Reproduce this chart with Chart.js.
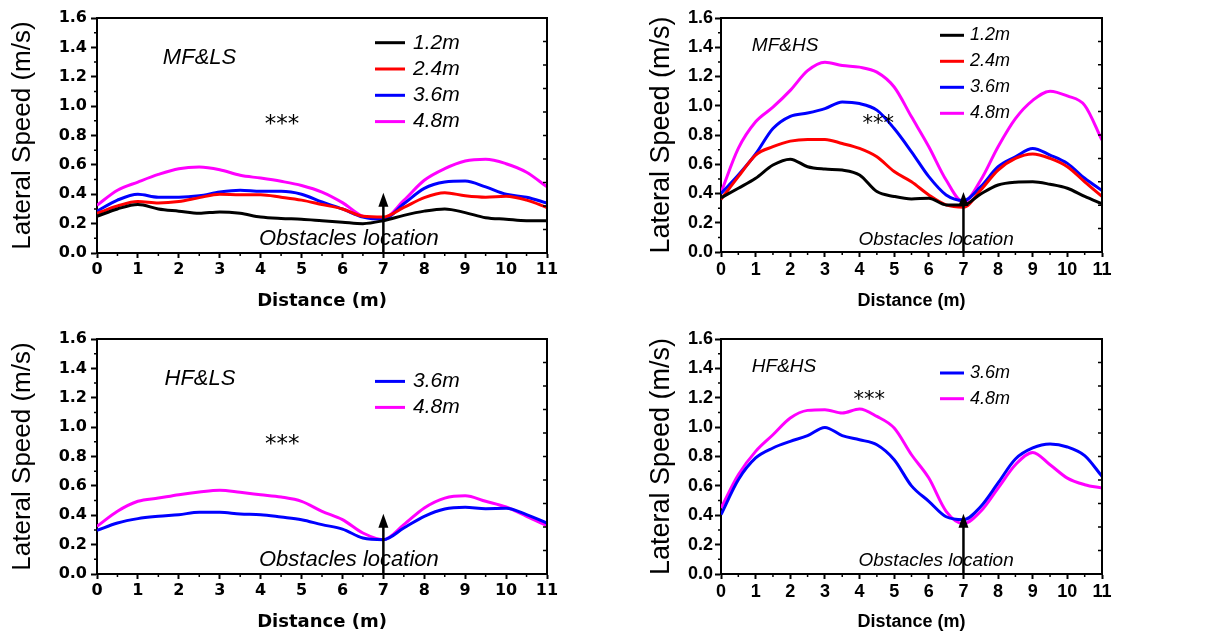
<!DOCTYPE html>
<html>
<head>
<meta charset="utf-8">
<script src="https://cdn.jsdelivr.net/npm/chart.js@4.4.0/dist/chart.umd.min.js"></script>
<style>
    body { margin: 0; background: #fff; }
    canvas { position: absolute; }
</style>
</head>
<body>
<canvas id="mfls" style="left:0px;top:0px" width="600" height="320"></canvas>
<canvas id="mfhs" style="left:624px;top:0px" width="594" height="320"></canvas>
<canvas id="hfls" style="left:0px;top:320px" width="600" height="321"></canvas>
<canvas id="hfhs" style="left:624px;top:320px" width="594" height="321"></canvas>
<script>
const distance = [0, 0.5, 1, 1.5, 2, 2.5, 3, 3.5, 4, 4.5, 5, 5.5, 6, 6.5, 7, 7.5, 8, 8.5, 9, 9.5, 10, 10.5, 11];
const distanceTicks = [0, 1, 2, 3, 4, 5, 6, 7, 8, 9, 10, 11];
const speedTicks = [0, 0.2, 0.4, 0.6, 0.8, 1.0, 1.2, 1.4, 1.6];
const heightLabels = ["1.2m", "2.4m", "3.6m", "4.8m"];
const lineColors = ["#000000", "#ff0000", "#0000ff", "#ff00ff"];

// MF&LS
const mfls12 = [0.25, 0.30, 0.33, 0.30, 0.285, 0.27, 0.28, 0.27, 0.245, 0.235, 0.23, 0.22, 0.21, 0.20, 0.22, 0.256, 0.285, 0.30, 0.275, 0.24, 0.23, 0.22, 0.22];
const mfls24 = [0.27, 0.32, 0.35, 0.34, 0.35, 0.377, 0.40, 0.397, 0.397, 0.38, 0.36, 0.33, 0.30, 0.25, 0.245, 0.31, 0.377, 0.41, 0.39, 0.38, 0.386, 0.36, 0.31];
const mfls36 = [0.285, 0.36, 0.40, 0.38, 0.38, 0.39, 0.415, 0.427, 0.42, 0.42, 0.40, 0.347, 0.30, 0.245, 0.23, 0.335, 0.44, 0.483, 0.49, 0.45, 0.40, 0.38, 0.34];
const mfls48 = [0.325, 0.427, 0.483, 0.535, 0.574, 0.585, 0.567, 0.529, 0.51, 0.488, 0.46, 0.415, 0.343, 0.25, 0.234, 0.358, 0.495, 0.574, 0.626, 0.638, 0.608, 0.55, 0.45];

// MF&HS
const mfhs12 = [0.37, 0.436, 0.504, 0.595, 0.635, 0.583, 0.567, 0.56, 0.527, 0.413, 0.38, 0.363, 0.368, 0.322, 0.322, 0.397, 0.458, 0.477, 0.48, 0.463, 0.436, 0.38, 0.33];
const mfhs24 = [0.36, 0.515, 0.663, 0.72, 0.758, 0.77, 0.77, 0.742, 0.708, 0.651, 0.55, 0.48, 0.39, 0.322, 0.306, 0.424, 0.56, 0.64, 0.67, 0.64, 0.583, 0.48, 0.38];
const mfhs36 = [0.40, 0.526, 0.67, 0.844, 0.928, 0.95, 0.98, 1.026, 1.015, 0.97, 0.844, 0.685, 0.515, 0.39, 0.352, 0.447, 0.583, 0.651, 0.708, 0.663, 0.606, 0.504, 0.42];
const mfhs48 = [0.406, 0.708, 0.89, 0.99, 1.105, 1.24, 1.298, 1.275, 1.264, 1.23, 1.128, 0.924, 0.72, 0.492, 0.34, 0.492, 0.72, 0.912, 1.037, 1.10, 1.067, 1.003, 0.765];

// HF&LS
const hfls36 = [0.297, 0.347, 0.377, 0.393, 0.404, 0.42, 0.42, 0.408, 0.404, 0.388, 0.37, 0.336, 0.306, 0.245, 0.234, 0.313, 0.393, 0.443, 0.454, 0.445, 0.447, 0.404, 0.347];
const hfls48 = [0.324, 0.427, 0.495, 0.517, 0.54, 0.558, 0.57, 0.556, 0.54, 0.524, 0.495, 0.427, 0.37, 0.279, 0.234, 0.336, 0.45, 0.517, 0.533, 0.495, 0.456, 0.393, 0.329];

// HF&HS
const hfhs36 = [0.404, 0.642, 0.79, 0.858, 0.903, 0.942, 0.998, 0.942, 0.914, 0.88, 0.778, 0.60, 0.495, 0.39, 0.37, 0.46, 0.62, 0.783, 0.858, 0.885, 0.865, 0.806, 0.665];
const hfhs48 = [0.449, 0.676, 0.835, 0.948, 1.062, 1.114, 1.119, 1.096, 1.123, 1.073, 0.994, 0.812, 0.653, 0.427, 0.343, 0.427, 0.585, 0.744, 0.828, 0.744, 0.653, 0.608, 0.585];

const obstacleAt = 7;
const arrowTip = 0.41;

// left column is drawn a bit wider than the right one
const wideLook = {
    pad: { left: 0, top: 18, right: 53, bottom: 0 },
    xAxisHeight: 67,
    tickFont: { family: "DejaVu Sans", size: 16, weight: "bold" },
    xTitleFont: { family: "DejaVu Sans", size: 18, weight: "bold", lineHeight: 1 },
    yTitleFont: { family: "Liberation Sans", size: 26, lineHeight: 1 },
    yTitleGap: 10,
    yTickPad: 4,
    nameSize: 22, noteSize: 22, starSize: 23, legendSize: 21,
    legend: { x0: 278, x1: 308, tx: 316, top: 24.7, gap: 26.3 }
};
const narrowLook = {
    pad: { left: 0, top: 18, right: 116, bottom: 0 },
    xAxisHeight: 68,
    tickFont: { family: "Liberation Sans", size: 18, weight: "bold" },
    xTitleFont: { family: "Liberation Sans", size: 18, weight: "bold", lineHeight: 1 },
    yTitleFont: { family: "Liberation Sans", size: 27, lineHeight: 1 },
    yTitleGap: 24,
    yTickPad: 2,
    nameSize: 19, noteSize: 19, starSize: 21, legendSize: 18,
    legend: { x0: 219, x1: 243, tx: 249, top: 17.3, gap: 26 }
};

function extras(title, look, spots) {
    return {
        id: "extras",
        afterDatasetsDraw(chart) {
            const { ctx, chartArea: a, scales: { x, y } } = chart;
            ctx.save();
            ctx.strokeStyle = "#000";
            ctx.fillStyle = "#000";

            // top and right sides of the box
            ctx.lineWidth = 2;
            ctx.beginPath();
            ctx.moveTo(a.left, a.top);
            ctx.lineTo(a.right, a.top);
            ctx.lineTo(a.right, a.bottom);
            ctx.stroke();

            // minor ticks + inner ticks on the right side
            ctx.lineWidth = 1.5;
            ctx.beginPath();
            for (let i = 0; i < 11; i++) {
                const px = x.getPixelForValue(i + 0.5);
                ctx.moveTo(px, a.bottom);
                ctx.lineTo(px, a.bottom + 3);
            }
            for (let i = 0; i < 8; i++) {
                const py = y.getPixelForValue(0.1 + i * 0.2);
                ctx.moveTo(a.left, py);
                ctx.lineTo(a.left - 3, py);
            }
            for (let i = 1; i < 10; i++) {
                const py = a.top + (a.bottom - a.top) * i / 10;
                ctx.moveTo(a.right, py);
                ctx.lineTo(a.right - 4, py);
            }
            ctx.stroke();

            // texts inside the plot
            ctx.textBaseline = "alphabetic";
            ctx.textAlign = "left";
            ctx.font = "italic " + look.nameSize + "px 'Liberation Sans'";
            ctx.fillText(title, x.getPixelForValue(spots.name[0]), y.getPixelForValue(spots.name[1]));
            ctx.font = "italic " + look.noteSize + "px 'Liberation Sans'";
            ctx.fillText("Obstacles location", x.getPixelForValue(spots.note[0]), y.getPixelForValue(spots.note[1]));
            ctx.textAlign = "center";
            ctx.font = look.starSize + "px 'DejaVu Sans'";
            ctx.fillText("***", x.getPixelForValue(spots.star[0]), y.getPixelForValue(spots.star[1]));

            // arrow at the obstacle
            const ax = x.getPixelForValue(obstacleAt);
            const tip = y.getPixelForValue(arrowTip);
            ctx.lineWidth = 2.5;
            ctx.beginPath();
            ctx.moveTo(ax, y.getPixelForValue(0));
            ctx.lineTo(ax, tip + 10);
            ctx.stroke();
            ctx.beginPath();
            ctx.moveTo(ax, tip);
            ctx.lineTo(ax - 5, tip + 14);
            ctx.lineTo(ax + 5, tip + 14);
            ctx.closePath();
            ctx.fill();

            // legend
            const lg = look.legend;
            ctx.textAlign = "left";
            ctx.textBaseline = "middle";
            ctx.font = "italic " + look.legendSize + "px 'Liberation Sans'";
            chart.data.datasets.forEach((ds, i) => {
                const ly = a.top + lg.top + i * lg.gap;
                ctx.strokeStyle = ds.borderColor;
                ctx.lineWidth = 3;
                ctx.beginPath();
                ctx.moveTo(a.left + lg.x0, ly);
                ctx.lineTo(a.left + lg.x1, ly);
                ctx.stroke();
                ctx.fillStyle = "#000";
                ctx.fillText(ds.label, a.left + lg.tx, ly);
            });
            ctx.restore();
        }
    };
}

function drawPanel(canvasId, title, series, look, spots) {
    const first = heightLabels.length - series.length;
    new Chart(document.getElementById(canvasId), {
        type: "line",
        data: {
            datasets: series.map((vals, i) => ({
                label: heightLabels[first + i],
                data: vals.map((v, j) => ({ x: distance[j], y: v })),
                borderColor: lineColors[first + i],
                borderWidth: 3,
                pointRadius: 0,
                cubicInterpolationMode: "monotone",
                fill: false
            }))
        },
        options: {
            responsive: false,
            animation: false,
            events: [],
            layout: { padding: look.pad },
            plugins: { legend: { display: false }, tooltip: { enabled: false } },
            scales: {
                x: {
                    type: "linear",
                    min: 0,
                    max: 11,
                    afterBuildTicks: s => { s.ticks = distanceTicks.map(v => ({ value: v })); },
                    afterFit: s => { s.height = look.xAxisHeight; },
                    ticks: { color: "#000", font: look.tickFont, padding: 2, maxRotation: 0, autoSkip: false },
                    grid: { drawOnChartArea: false, tickLength: 5, tickWidth: 2, tickColor: "#000" },
                    border: { color: "#000", width: 2 },
                    title: { display: true, text: "Distance (m)", color: "#000", font: look.xTitleFont, padding: { top: 0, bottom: 10 } }
                },
                y: {
                    type: "linear",
                    min: 0,
                    max: 1.6,
                    afterBuildTicks: s => { s.ticks = speedTicks.map(v => ({ value: v })); },
                    afterFit: s => { s.width = 97; },
                    ticks: { color: "#000", font: look.tickFont, padding: look.yTickPad, callback: v => v.toFixed(1) },
                    grid: { drawOnChartArea: false, tickLength: 6, tickWidth: 2, tickColor: "#000" },
                    border: { color: "#000", width: 2 },
                    title: { display: true, text: "Lateral Speed (m/s)", color: "#000", font: look.yTitleFont, padding: { top: look.yTitleGap, bottom: 0 } }
                }
            }
        },
        plugins: [extras(title, look, spots)]
    });
}

drawPanel("mfls", "MF&LS", [mfls12, mfls24, mfls36, mfls48], wideLook,
    { name: [1.61, 1.289], note: [3.96, 0.052], star: [4.52, 0.832] });
drawPanel("mfhs", "MF&HS", [mfhs12, mfhs24, mfhs36, mfhs48], narrowLook,
    { name: [0.89, 1.377], note: [3.97, 0.05], star: [4.54, 0.836] });
drawPanel("hfls", "HF&LS", [hfls36, hfls48],
    Object.assign({}, wideLook, { pad: { left: 0, top: 19, right: 53, bottom: 0 }, xAxisHeight: 67, legend: { x0: 278, x1: 308, tx: 316, top: 42.4, gap: 26 } }),
    { name: [1.65, 1.289], note: [3.96, 0.056], star: [4.53, 0.836] });
drawPanel("hfhs", "HF&HS", [hfhs36, hfhs48],
    Object.assign({}, narrowLook, { pad: { left: 0, top: 19, right: 116, bottom: 0 }, xAxisHeight: 67, legend: { x0: 219, x1: 243, tx: 249, top: 34, gap: 25.7 } }),
    { name: [0.89, 1.375], note: [3.97, 0.056], star: [4.28, 1.142] });
</script>
</body>
</html>
